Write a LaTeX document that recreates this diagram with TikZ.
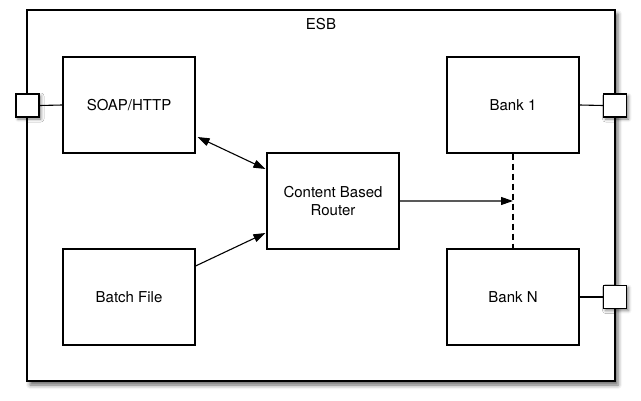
\documentclass[tikz,border=0pt]{standalone}
\usepackage{fontspec}
\setmainfont{TeX Gyre Heros}
\usetikzlibrary{shadows.blur,arrows.meta,calc}
\begin{document}
\begin{tikzpicture}[x=1pt,y=-1pt,
  box/.style={draw, line width=1.1pt, fill=white, minimum width=132pt, minimum height=96pt, align=center, font=\fontsize{15}{18}\selectfont, inner sep=0pt},
  port/.style={draw, line width=1.1pt, fill=white, minimum size=23pt, inner sep=0pt, blur shadow={shadow xshift=2pt, shadow yshift=-2pt, shadow blur radius=3pt, shadow opacity=50}},
  arr/.style={-{Triangle[length=12pt,width=8pt]}, line width=1.1pt},
  conn/.style={line width=1.1pt}]
\useasboundingbox (0,0) rectangle (641,401);
\node[draw, line width=1.4pt, fill=white, minimum width=588pt, minimum height=371pt, inner sep=0pt,
  blur shadow={shadow xshift=3pt, shadow yshift=-4pt, shadow blur radius=4pt, shadow opacity=60}] (esb) at (321,195.5) {};
\node[font=\fontsize{15}{18}\selectfont] (esblabel) at (321,24) {ESB};
\node[box] (soap) at (129,105) {SOAP/HTTP};
\node[box] (batch) at (129,297) {Batch File};
\node[box] (router) at (333,201) {Content Based\\Router};
\node[box] (bank1) at (513,105) {Bank 1};
\node[box] (bankn) at (513,297) {Bank N};
\node[port] (pin) at (27.5,105.5) {};
\node[port] (pout1) at (615,105.5) {};
\node[port] (poutn) at (615,297) {};
\draw[conn] (pin.east) -- (soap.west);
\draw[conn] (bank1.east) -- (pout1.west);
\draw[conn] (bankn.east) -- (poutn.west);
\draw[conn, dash pattern=on 6pt off 4pt] (bank1.south) -- (bankn.north);
\coordinate (mid) at ($(bank1.south)!0.5!(bankn.north)$);
\draw[arr, {Triangle[length=12pt,width=8pt]}-{Triangle[length=12pt,width=8pt]}] ([xshift=2pt,yshift=-32pt]soap.east) -- ([xshift=-1pt,yshift=32pt]router.west);
\draw[arr] ([yshift=31pt]batch.east) -- ([xshift=-1pt,yshift=-32pt]router.west);
\draw[arr] (router.east) -- (mid);
\end{tikzpicture}
\end{document}
